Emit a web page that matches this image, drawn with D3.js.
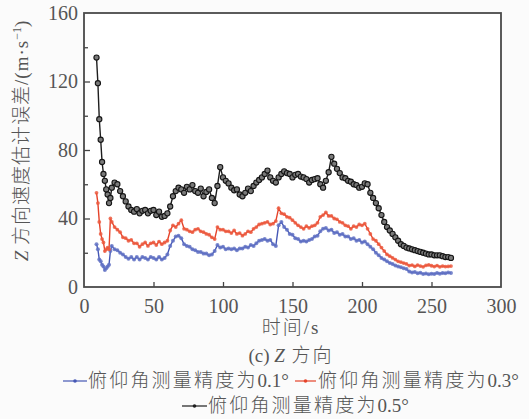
<!DOCTYPE html>
<html>
<head>
<meta charset="utf-8">
<script src="https://cdn.jsdelivr.net/npm/d3@7"></script>
<style>
  body { margin: 0; background: #fbfbfb; }
  svg { display: block; }
</style>
</head>
<body>
<div id="chart"></div>
<script>
// time axis (s)
var times = [9, 10, 11, 12, 13, 14, 15, 16, 17, 18, 19, 20,
    22, 24, 26, 28, 30, 32, 34, 36, 38, 40, 42, 44, 46, 48, 50, 52, 54, 56, 58, 60,
    62, 64, 66, 68, 70, 72, 74, 76, 78, 80, 82, 84, 86, 88, 90, 92, 94, 96, 98, 100,
    102, 104, 106, 108, 110, 112, 114, 116, 118, 120, 122, 124, 126, 128, 130, 132, 134, 136, 138, 140,
    142, 144, 146, 148, 150, 152, 154, 156, 158, 160, 162, 164, 166, 168, 170, 172, 174, 176, 178, 180,
    182, 184, 186, 188, 190, 192, 194, 196, 198, 200, 202, 204, 206, 208, 210, 212, 214, 216, 218, 220,
    222, 224, 226, 228, 230, 232, 234, 236, 238, 240, 242, 244, 246, 248, 250, 252, 254, 256, 258, 260,
    262, 264];

// pitch accuracy 0.1 deg
var err01 = [25, 22, 16, 15, 13, 12, 10, 11, 12, 13, 21, 24,
    22, 21.5, 20, 19, 17.5, 16.5, 17.5, 16, 17.5, 16, 17.5, 17, 16, 17.5, 17, 16, 17.5, 16, 17, 19,
    24, 27, 29.5, 30, 28.5, 25, 24, 23.5, 22, 21.5, 20.5, 20.5, 19.5, 19.5, 18.5, 19, 21, 24.5, 23, 23.5,
    22, 22.5, 22, 22.5, 21.5, 22.5, 22.5, 23.5, 23, 24.5, 24, 25.5, 27, 27.5, 28, 27, 27.5, 25, 24, 36,
    38, 35, 33.5, 31, 30.5, 28.5, 28, 26.5, 27, 26.5, 27.5, 28, 29.5, 30, 32.5, 34, 34.5, 33, 33.5, 31.5,
    32, 30.5, 31, 29.5, 29.5, 28, 28.5, 27, 27.5, 26, 26.5, 25, 23.5, 22, 20, 18.5, 17, 16, 15, 14,
    13.5, 12.5, 12, 11.5, 11, 10.5, 9, 8.5, 8.8, 8, 8.3, 7.6, 7.9, 7.4, 7.8, 7.6, 8.2, 7.8, 8.2, 8,
    8.4, 8.2];

// pitch accuracy 0.3 deg
var err03 = [55, 49, 38, 31, 28, 26, 21, 22, 23, 22, 40, 38,
    35, 33.5, 32, 29, 28.5, 27, 27.5, 25.5, 25.5, 23.5, 25, 26, 24, 25.5, 26, 24.5, 26.5, 25, 26, 27,
    33, 36, 35, 37, 39, 34, 33.5, 32.5, 32, 33.5, 34, 32.5, 32, 31, 30.5, 29, 28, 35, 33.5, 33.5,
    32.5, 32.5, 31.5, 33, 31, 31.5, 30, 31, 32.5, 32, 34, 35, 36.5, 37, 37.5, 38, 36.5, 37, 38.5, 46,
    43, 42.5, 41, 40.5, 39, 37.5, 36, 35, 34, 35.5, 34.5, 35.5, 36, 37.5, 41, 42, 43.5, 41.5, 41.5, 40,
    39.5, 38, 37.5, 36, 35.5, 34, 35.5, 35, 36.5, 36, 37, 34, 31, 28, 27, 25, 23, 21, 19, 18,
    17, 16, 15, 14.5, 14, 13.5, 12.5, 12.8, 12, 12.8, 12.2, 11.8, 12.6, 12.9, 12.4, 11.9, 12.5, 11.8, 12.2, 11.9,
    12, 12.2];

// pitch accuracy 0.5 deg
var err05 = [134, 119, 98, 86, 73, 66, 62, 57, 54, 49, 52, 58,
    61, 60, 56, 53, 50, 47, 45, 44, 45.5, 43, 44.5, 45, 43, 44.5, 45, 42, 44, 41, 41.5, 43,
    47, 53, 56, 58, 57, 55, 58.5, 57, 59.5, 56, 55, 57.5, 53, 55.5, 57, 52, 49, 59, 70, 64,
    62, 60.5, 58, 56.5, 57, 54, 53, 55, 57.5, 56, 59, 61, 62.5, 64, 66, 68, 64, 62, 61, 64,
    66, 67.5, 66.5, 66, 64, 65.5, 66, 64.5, 64, 63, 61, 62.5, 63, 63.5, 60, 58, 62, 67, 76, 72,
    69, 66.5, 64, 63.5, 62, 61.5, 60, 59.5, 58, 58.5, 60.5, 60, 55, 52, 49, 46, 42, 38, 35, 33,
    31, 29, 27, 25, 24, 23, 22.5, 22, 21.5, 21, 20.5, 20, 19.5, 19, 19, 18.5, 18.5, 18.5, 18, 17.5,
    17.5, 17];

var xTicks = [0, 50, 100, 150, 200, 250, 300];
var yTicks = [0, 40, 80, 120, 160];
var legendPrefix = "俯仰角测量精度为";
var legendValues = ["0.1°", "0.3°", "0.5°"];

var W = 529, H = 419;
var margin = { top: 13, right: 28, bottom: 132, left: 84 };
var width = W - margin.left - margin.right;
var height = H - margin.top - margin.bottom;

var svg = d3.select("#chart").append("svg")
    .attr("width", W)
    .attr("height", H);

var g = svg.append("g")
    .attr("transform", "translate(" + margin.left + "," + margin.top + ")");

var x = d3.scaleLinear().domain([0, 300]).range([0, width]);
var y = d3.scaleLinear().domain([0, 160]).range([height, 0]);

var serif = "'Liberation Serif', 'Times New Roman', serif";
var cjk = "'Liberation Serif', 'Noto Sans CJK SC', serif";
var textColor = "#555";

g.append("rect")
    .attr("width", width)
    .attr("height", height)
    .attr("fill", "#ffffff");

// bottom axis, ticks inward
var xAxis = g.append("g")
    .attr("transform", "translate(0," + height + ")")
    .call(d3.axisBottom(x).tickValues(xTicks).tickSizeInner(-5).tickSizeOuter(0).tickPadding(12));
xAxis.selectAll("text").attr("font-family", serif).attr("font-size", "20px").attr("fill", textColor);

// left axis with minor ticks
g.append("g")
    .call(d3.axisLeft(y).tickValues([20, 60, 100, 140]).tickSizeInner(-4).tickSizeOuter(0).tickFormat(""));
var yAxis = g.append("g")
    .call(d3.axisLeft(y).tickValues(yTicks).tickSizeInner(-6).tickSizeOuter(0).tickPadding(6));
yAxis.selectAll("text").attr("font-family", serif).attr("font-size", "20px").attr("fill", textColor);

g.selectAll(".domain").remove();
g.selectAll(".tick line").attr("stroke", "#444").attr("stroke-width", 1.3);
g.selectAll(".tick").filter(function (d) { return d === 0 || d === 160 || d === 300; })
    .select("line").remove();

// frame
g.append("rect")
    .attr("width", width)
    .attr("height", height)
    .attr("fill", "none")
    .attr("stroke", "#4a4a4a")
    .attr("stroke-width", 1.8);

var series = [
    { values: err01, color: "#4557b5", mark: "#6272c4", r: 2 },
    { values: err03, color: "#e5432a", mark: "#ec5a40", r: 1.9 },
    { values: err05, color: "#1e1e1e", mark: "#7a7a7a", r: 2.6 }
];

var line = d3.line()
    .x(function (d) { return x(d.t); })
    .y(function (d) { return y(d.v); });

series.forEach(function (s) {
    var pts = times.map(function (t, i) { return { t: t, v: s.values[i] }; });
    g.append("path")
        .datum(pts)
        .attr("fill", "none")
        .attr("stroke", s.color)
        .attr("stroke-width", 1.4)
        .attr("d", line);
    g.selectAll(null)
        .data(pts)
        .enter().append("circle")
        .attr("cx", function (d) { return x(d.t); })
        .attr("cy", function (d) { return y(d.v); })
        .attr("r", s.r)
        .attr("fill", s.mark)
        .attr("fill-opacity", s.r > 2.2 ? 1 : 0.85)
        .attr("stroke", s.r > 2.2 ? "#151515" : "none")
        .attr("stroke-width", 1.1);
});

// axis titles
svg.append("text")
    .attr("x", 291)
    .attr("y", 334)
    .attr("text-anchor", "middle")
    .attr("font-family", cjk)
    .attr("font-size", "19px")
    .attr("font-weight", 300)
    .attr("letter-spacing", "2px")
    .attr("fill", textColor)
    .text("时间/s");

var cap = svg.append("text")
    .attr("x", 291)
    .attr("y", 362)
    .attr("text-anchor", "middle")
    .attr("font-family", cjk)
    .attr("font-size", "19px")
    .attr("font-weight", 300)
    .attr("fill", textColor);
cap.append("tspan").text("(c) ");
cap.append("tspan").attr("font-style", "italic").text("Z");
cap.append("tspan").attr("letter-spacing", "2px").text(" 方向");

var yl = svg.append("text")
    .attr("transform", "translate(28,141) rotate(-90)")
    .attr("text-anchor", "middle")
    .attr("font-family", cjk)
    .attr("font-size", "19px")
    .attr("font-weight", 300)
    .attr("fill", textColor);
yl.append("tspan").attr("font-style", "italic").text("Z");
yl.append("tspan").attr("letter-spacing", "1px").text(" 方向速度估计误差/(m·s");
yl.append("tspan").attr("font-size", "12px").attr("dy", -7).text("−1");
yl.append("tspan").attr("dy", 7).text(")");

// legend
var legendPos = [
    { x1: 63, x2: 87, tx: 88, y: 387 },
    { x1: 295, x2: 316, tx: 318, y: 387 },
    { x1: 182, x2: 207, tx: 208, y: 412 }
];
series.forEach(function (s, i) {
    var p = legendPos[i];
    svg.append("line")
        .attr("x1", p.x1).attr("x2", p.x2)
        .attr("y1", p.y - 6).attr("y2", p.y - 6)
        .attr("stroke", s.color)
        .attr("stroke-width", 1.2);
    svg.append("circle")
        .attr("cx", (p.x1 + p.x2) / 2)
        .attr("cy", p.y - 6)
        .attr("r", 1.8)
        .attr("fill", s.color);
    var t = svg.append("text")
        .attr("x", p.tx)
        .attr("y", p.y)
        .attr("font-family", cjk)
        .attr("font-size", "19px")
        .attr("font-weight", 300)
        .attr("fill", textColor);
    t.append("tspan").attr("letter-spacing", "2.2px").text(legendPrefix);
    t.append("tspan").text(legendValues[i]);
});
</script>
</body>
</html>
